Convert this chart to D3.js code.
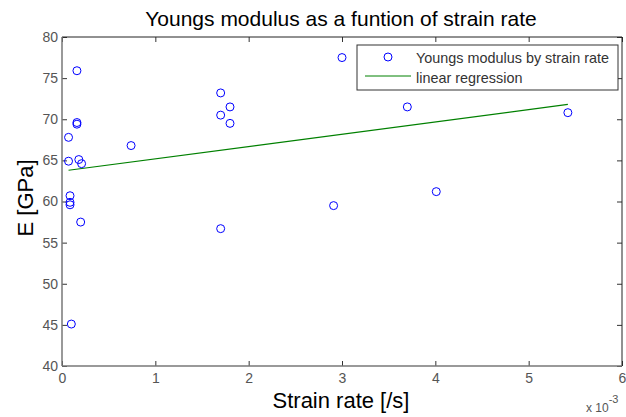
<!DOCTYPE html>
<html>
<head>
<meta charset="utf-8">
<script src="https://cdn.jsdelivr.net/npm/d3@7"></script>
<style>
  body { margin: 0; background: #fff; }
  text { font-family: "Liberation Sans", Arial, sans-serif; }
</style>
</head>
<body>
<div class="chart"></div>
<script>
'use strict';

// Data (strain rate in 1/s, E in GPa)
const strainRate = [0.00010, 0.00016, 0.00016, 0.00016, 0.00007, 0.00007, 0.00018, 0.00021,
                    0.000086, 0.000086, 0.000086, 0.00020, 0.00074, 0.00170, 0.00170, 0.00180,
                    0.00180, 0.00170, 0.00300, 0.00291, 0.00370, 0.00401, 0.00542];
const youngs = [45.1, 75.9, 69.6, 69.4, 67.8, 64.9, 65.1, 64.6,
                60.7, 59.9, 59.6, 57.5, 66.8, 73.2, 70.5, 71.5,
                69.5, 56.7, 77.5, 59.5, 71.5, 61.2, 70.8];

// Regression line endpoints
const regX = [0.00007, 0.00542];
const regE = [63.8, 71.8];

const xTicks = [0, 1, 2, 3, 4, 5, 6];
const yTicks = [40, 45, 50, 55, 60, 65, 70, 75, 80];

// Initialize
const w = 626;
const h = 417;
const pLeft = 62, pRight = 622, pTop = 37, pBottom = 366;

const svg = d3.select('.chart')
              .append('svg')
              .attr('width', w)
              .attr('height', h);

// Scales
const xScale = d3.scaleLinear().domain([0, 0.006]).range([pLeft, pRight]);
const yScale = d3.scaleLinear().domain([40, 80]).range([pBottom, pTop]);

// Axes
const xAxis = d3.axisBottom(xScale)
  .tickValues(xTicks.map(d => d / 1000))
  .tickFormat(d => Math.round(d * 1000))
  .tickSizeInner(-5).tickSizeOuter(0).tickPadding(7);
const yAxis = d3.axisLeft(yScale)
  .tickValues(yTicks)
  .tickSizeInner(-5).tickSizeOuter(0).tickPadding(4);

svg.append('g')
  .attr('transform', `translate(0, ${pBottom})`)
  .call(xAxis);
svg.append('g')
  .attr('transform', `translate(${pLeft}, 0)`)
  .call(yAxis);

// top and right ticks
svg.append('g')
  .attr('transform', `translate(0, ${pTop})`)
  .call(d3.axisTop(xScale).tickValues(xTicks.map(d => d / 1000)).tickFormat('').tickSizeInner(-5).tickSizeOuter(0));
svg.append('g')
  .attr('transform', `translate(${pRight}, 0)`)
  .call(d3.axisRight(yScale).tickValues(yTicks).tickFormat('').tickSizeInner(-5).tickSizeOuter(0));

svg.selectAll('.tick line').attr('stroke', '#333');
svg.selectAll('.domain').remove();
svg.selectAll('.tick text')
  .attr('fill', '#555')
  .style('font-size', '14px');

// box
svg.append('line').attr('x1', pLeft).attr('x2', pRight).attr('y1', pTop).attr('y2', pTop).attr('stroke', '#222');
svg.append('line').attr('x1', pRight).attr('x2', pRight).attr('y1', pTop).attr('y2', pBottom).attr('stroke', '#222');
svg.append('line').attr('x1', pLeft).attr('x2', pRight).attr('y1', pBottom).attr('y2', pBottom).attr('stroke', '#777').attr('stroke-width', 1.5);
svg.append('line').attr('x1', pLeft).attr('x2', pLeft).attr('y1', pTop).attr('y2', pBottom).attr('stroke', '#777').attr('stroke-width', 1.5);

// Regression line
svg.append('path')
  .datum(regX.map((x, i) => [x, regE[i]]))
  .attr('fill', 'none')
  .attr('stroke', '#008000')
  .attr('stroke-width', 1.2)
  .attr('d', d3.line().x(d => xScale(d[0])).y(d => yScale(d[1])));

// Points
svg.selectAll('circle.pt')
  .data(youngs)
  .enter()
  .append('circle')
  .attr('class', 'pt')
  .attr('cx', (d, i) => xScale(strainRate[i]))
  .attr('cy', d => yScale(d))
  .attr('r', 4)
  .attr('fill', 'none')
  .attr('stroke', '#0000ff')
  .attr('stroke-width', 1);

// Title and labels
svg.append('text')
  .attr('x', 341).attr('y', 26)
  .attr('text-anchor', 'middle')
  .style('font-size', '21px')
  .text('Youngs modulus as a funtion of strain rate');

svg.append('text')
  .attr('x', 341).attr('y', 408)
  .attr('text-anchor', 'middle')
  .style('font-size', '22px')
  .text('Strain rate [/s]');

svg.append('text')
  .attr('transform', 'translate(33, 198) rotate(-90)')
  .attr('text-anchor', 'middle')
  .style('font-size', '22px')
  .text('E [GPa]');

const mult = svg.append('text')
  .attr('x', 586).attr('y', 412)
  .attr('fill', '#555')
  .style('font-size', '12px');
mult.append('tspan').text('x 10');
mult.append('tspan').attr('dy', -9).style('font-size', '11px').text('-3');

// Legend
const lg = svg.append('g');
lg.append('rect')
  .attr('x', 357).attr('y', 45).attr('width', 261).attr('height', 45)
  .attr('fill', '#fff').attr('stroke', '#333');
lg.append('circle')
  .attr('cx', 388).attr('cy', 57).attr('r', 4)
  .attr('fill', 'none').attr('stroke', '#0000ff');
lg.append('line')
  .attr('x1', 365).attr('x2', 411).attr('y1', 76).attr('y2', 76)
  .attr('stroke', '#008000');
lg.append('text')
  .attr('x', 416).attr('y', 63)
  .attr('fill', '#333')
  .style('font-size', '14.4px')
  .text('Youngs modulus by strain rate');
lg.append('text')
  .attr('x', 416).attr('y', 83)
  .attr('fill', '#333')
  .style('font-size', '14.4px')
  .text('linear regression');
</script>
</body>
</html>
